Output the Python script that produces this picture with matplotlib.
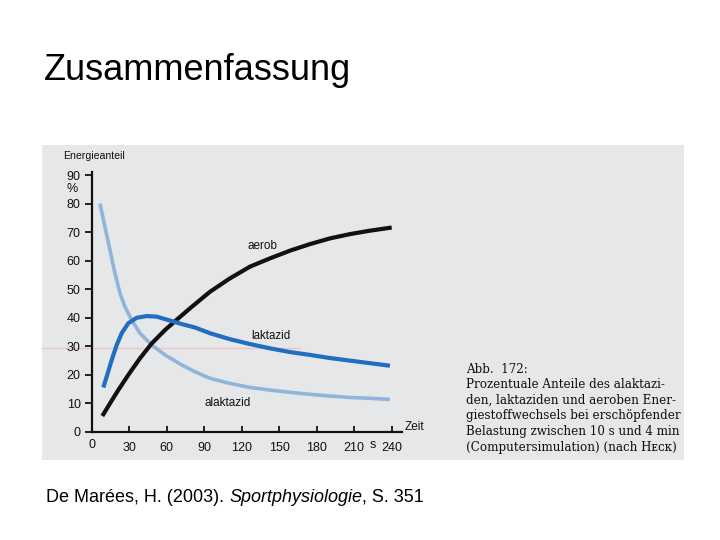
import matplotlib
matplotlib.use("Agg")
import matplotlib.pyplot as plt
from matplotlib.patches import Rectangle

# Data
t_aerob = [8.5, 14.6, 21.3, 29.3, 38.6, 48, 58.6, 69.3, 78.6, 94.6, 110.6, 126.6,
           142.6, 158.6, 174.6, 190.6, 206.6, 222.6, 240]
aerob = [5.6, 10, 14.7, 20, 25.8, 31, 35.7, 39.8, 43.3, 49.1, 53.8, 57.9,
         60.8, 63.5, 65.8, 67.8, 69.3, 70.5, 71.6]

t_lakt = [9.3, 12, 16, 20, 24, 29.3, 36, 44, 52, 61.3, 72, 82.6, 94.6, 110.6,
          126.6, 142.6, 158.6, 174.6, 190.6, 206.6, 222.6, 238.6]
laktazid = [15.6, 19.4, 25.2, 30.5, 34.6, 38.1, 40, 40.6, 40.4, 39.2, 37.8, 36.6,
            34.6, 32.5, 30.8, 29.3, 28, 27, 25.9, 25, 24.1, 23.2]

t_alakt = [6.6, 10.6, 14.6, 18.6, 22.6, 26.6, 32, 38.6, 48, 58.6, 72, 82.6, 94.6,
           110.6, 126.6, 142.6, 158.6, 174.6, 190.6, 206.6, 222.6, 238.6]
alaktazid = [80, 71.9, 63.7, 55.6, 48.6, 43.9, 39.2, 34.6, 30.5, 27, 23.5, 21.1, 18.8,
             17, 15.6, 14.7, 13.9, 13.2, 12.6, 12.1, 11.8, 11.4]

x_ticks = [0, 30, 60, 90, 120, 150, 180, 210, 240]
x_labels = ["0", "30", "60", "90", "120", "150", "180", "210", "240"]
y_ticks = [0, 10, 20, 30, 40, 50, 60, 70, 80, 90]
y_labels = ["0", "10", "20", "30", "40", "50", "60", "70", "80", "90"]

plt.rcParams["font.family"] = ["Liberation Sans", "DejaVu Sans"]

W, H = 720, 540
fig = plt.figure(figsize=(7.2, 5.4), dpi=100)
fig.patch.set_facecolor("white")

def fx(px):
    return px / W

def fy(py):
    return 1 - py / H

# scanned image area
fig.patches.append(Rectangle((fx(42), fy(460)), fx(684) - fx(42), fy(145) - fy(460),
                             transform=fig.transFigure, facecolor="#e6e7e9",
                             edgecolor="none", zorder=-2))
# faint pink underline from the scan
fig.lines.append(plt.Line2D([fx(42), fx(300)], [fy(348), fy(348)], transform=fig.transFigure,
                            color="#ebc6c9", lw=1.0, zorder=-1))

# axes: x 0..248 over 310 px starting at 91.7; y 0..91 over 260 px
left = 91.7
xscale = 300 / 240.0
yscale = (432 - 175) / 90.0
ax = fig.add_axes([fx(left), fy(432), 248 * xscale / W, 91 * yscale / H])
ax.set_facecolor("none")
ax.set_xlim(0, 248)
ax.set_ylim(0, 91)

ax.plot(t_alakt, alaktazid, color="#8fb5d8", lw=2.6, solid_capstyle="butt",
        solid_joinstyle="round", zorder=2)
ax.plot(t_aerob, aerob, color="#111111", lw=3.0, solid_capstyle="butt",
        solid_joinstyle="round", zorder=3)
ax.plot(t_lakt, laktazid, color="#216dbf", lw=3.0, solid_capstyle="butt",
        solid_joinstyle="round", zorder=4)

for s in ["top", "right"]:
    ax.spines[s].set_visible(False)
for s in ["left", "bottom"]:
    ax.spines[s].set_linewidth(1.6)
    ax.spines[s].set_color("#111111")

ax.set_yticks(y_ticks)
ax.set_yticklabels(y_labels)
ax.set_xticks(x_ticks[1:])
ax.set_xticklabels(x_labels[1:])
ax.tick_params(axis="y", direction="out", length=5, width=1.3, labelsize=9, pad=3, colors="#111111")
ax.tick_params(axis="x", direction="in", length=4, width=1.3, labelsize=9, pad=7, colors="#111111")
ax.text(0, -4.6, "0", ha="center", va="center", fontsize=9, color="#111111")

ax.text(225, -4.6, "s", ha="center", va="center", fontsize=9, color="#111111")

ax.text(-23, 96.5, "Energieanteil", ha="left", va="center", fontsize=7.6, color="#111111")
ax.text(-15.5, 85, "%", ha="center", va="center", fontsize=9, color="#111111")
ax.text(257.8, 1.75, "Zeit", ha="center", va="center", fontsize=8.5, color="#111111")

ax.text(137, 65.1, "aerob", ha="center", va="center", fontsize=8.5, color="#111111")
ax.text(143, 33.6, "laktazid", ha="center", va="center", fontsize=8.3, color="#111111")
ax.text(108.5, 10.3, "alaktazid", ha="center", va="center", fontsize=8.5, color="#111111")

caption = ("Abb.  172:\n"
           "Prozentuale Anteile des alaktazi-\n"
           "den, laktaziden und aeroben Ener-\n"
           "giestoffwechsels bei erschöpfender\n"
           "Belastung zwischen 10 s und 4 min\n"
           "(Computersimulation) (nach Hᴇᴄᴋ)")
fig.text(fx(466), fy(363), caption, ha="left", va="top", fontsize=8.6,
         family=["DejaVu Serif", "DejaVu Sans"], color="#101010", linespacing=1.25)

fig.text(fx(44), fy(80), "Zusammenfassung", ha="left", va="baseline",
         fontsize=26, color="black")

# citation with italic title
pre = fig.text(fx(46), fy(502), "De Marées, H. (2003). ", ha="left", va="baseline",
               fontsize=13, color="black")
fig.canvas.draw()
renderer = fig.canvas.get_renderer()
bb = pre.get_window_extent(renderer)
it = fig.text(bb.x1 / W, fy(502), "Sportphysiologie", ha="left", va="baseline",
              fontsize=13, style="italic", color="black")
bb2 = it.get_window_extent(renderer)
fig.text(bb2.x1 / W, fy(502), ", S. 351", ha="left", va="baseline",
         fontsize=13, color="black")

fig.savefig("out.png", dpi=100)
